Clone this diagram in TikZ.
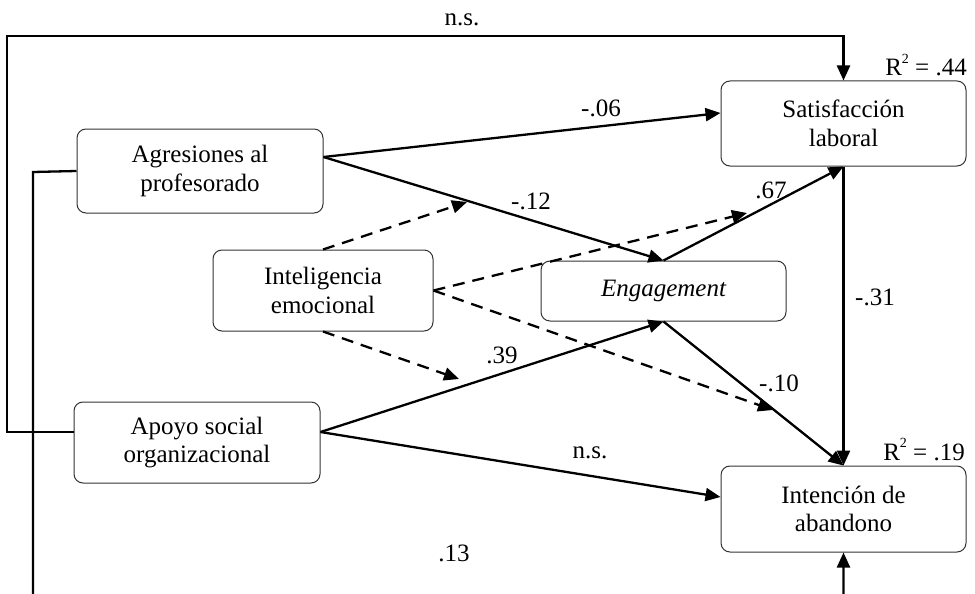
\documentclass[tikz,border=0pt]{standalone}
\usepackage{fontspec}
\setmainfont{Liberation Serif}
\usetikzlibrary{arrows.meta,calc}
\begin{document}
\begin{tikzpicture}[x=1pt,y=-1pt,
  every node/.style={font=\fontsize{25}{28.5}\selectfont},
  varbox/.style={draw=black!80,line width=1pt,rounded corners=9pt,align=center,inner sep=0pt},
  conn/.style={line width=2.3pt,-{Triangle[length=15pt,width=13pt]}},
  dconn/.style={line width=2.3pt,dash pattern=on 12pt off 8pt,-{Triangle[length=15pt,width=13pt]}},
  coef/.style={inner sep=0pt},
  rsq/.style={inner sep=0pt,anchor=base east}]
\useasboundingbox (0,0) rectangle (975,594);
\clip (0,0) rectangle (975,594);

% boxes
\node[varbox,minimum width=246pt,minimum height=84pt] (agr) at (200,171) {Agresiones al\\profesorado};
\node[varbox,minimum width=245pt,minimum height=85pt] (sat) at (843.5,123.5) {Satisfacción\\laboral};
\node[varbox,minimum width=220pt,minimum height=81pt] (intel) at (323,290.5) {Inteligencia\\emocional};
\node[varbox,minimum width=245pt,minimum height=60pt] (eng) at (663.5,291) {\itshape Engagement};
\node[varbox,minimum width=246pt,minimum height=81pt] (apo) at (197,442.5) {Apoyo social\\organizacional};
\node[varbox,minimum width=245pt,minimum height=86pt] (int) at (843.5,509) {Intención de\\abandono};

% connection points
\coordinate (agrE) at ($(agr.east)+(0,-14)$);
\coordinate (agrW) at (agr.west);
\coordinate (apoE) at ($(apo.east)+(0,-10.5)$);
\coordinate (apoW) at ($(apo.west)+(0,-10.5)$);
\coordinate (satW) at ($(sat.west)+(0,-10.5)$);
\coordinate (intW) at ($(int.west)+(0,-12)$);
\coordinate (intelE) at (intel.east);
\coordinate (t1) at (467,202);
\coordinate (t2) at (747,213);
\coordinate (t3) at (773,410);
\coordinate (t4) at (459,379);
\coordinate (c1) at (7,432);
\coordinate (c2) at (7,36);
\coordinate (c3) at (843.5,36);
\coordinate (c4) at (33,172);
\coordinate (c5) at (33,620);
\coordinate (c6) at (843.5,620);

% solid paths
\draw[conn] (agrE) -- (satW);
\draw[conn] (agrE) -- (eng.north);
\draw[conn] (eng.north) -- (sat.south);
\draw[conn] (eng.south) -- (int.north);
\draw[conn] (sat.south) -- (int.north);
\draw[conn] (apoE) -- (eng.south);
\draw[conn] (apoE) -- (intW);
\draw[conn] (apoW) -- (c1) -- (c2) -- (c3) -- (sat.north);
\draw[conn] (agrW) -- (c4) -- (c5) -- (c6) -- (int.south);

% dashed moderation paths
\draw[dconn] (intel.north) -- (t1);
\draw[dconn] (intelE) -- (t2);
\draw[dconn] (intelE) -- (t3);
\draw[dconn] (intel.south) -- (t4);

% coefficients
\node[coef] (l1) at (462,20) {n.s.};
\node[coef] (l2) at (601,108) {-.06};
\node[coef] (l3) at (531,201) {-.12};
\node[coef] (l4) at (771,190) {.67};
\node[coef] (l5) at (875,297) {-.31};
\node[coef] (l6) at (502,355) {.39};
\node[coef] (l7) at (779,383) {-.10};
\node[coef] (l8) at (590,453) {n.s.};
\node[coef] (l9) at (454,553) {.13};
\node[rsq] (r1) at (967,76) {R\raisebox{13pt}{\fontsize{14}{14}\selectfont 2} = .44};
\node[rsq] (r2) at (965,460) {R\raisebox{13pt}{\fontsize{14}{14}\selectfont 2} = .19};
\end{tikzpicture}
\end{document}
